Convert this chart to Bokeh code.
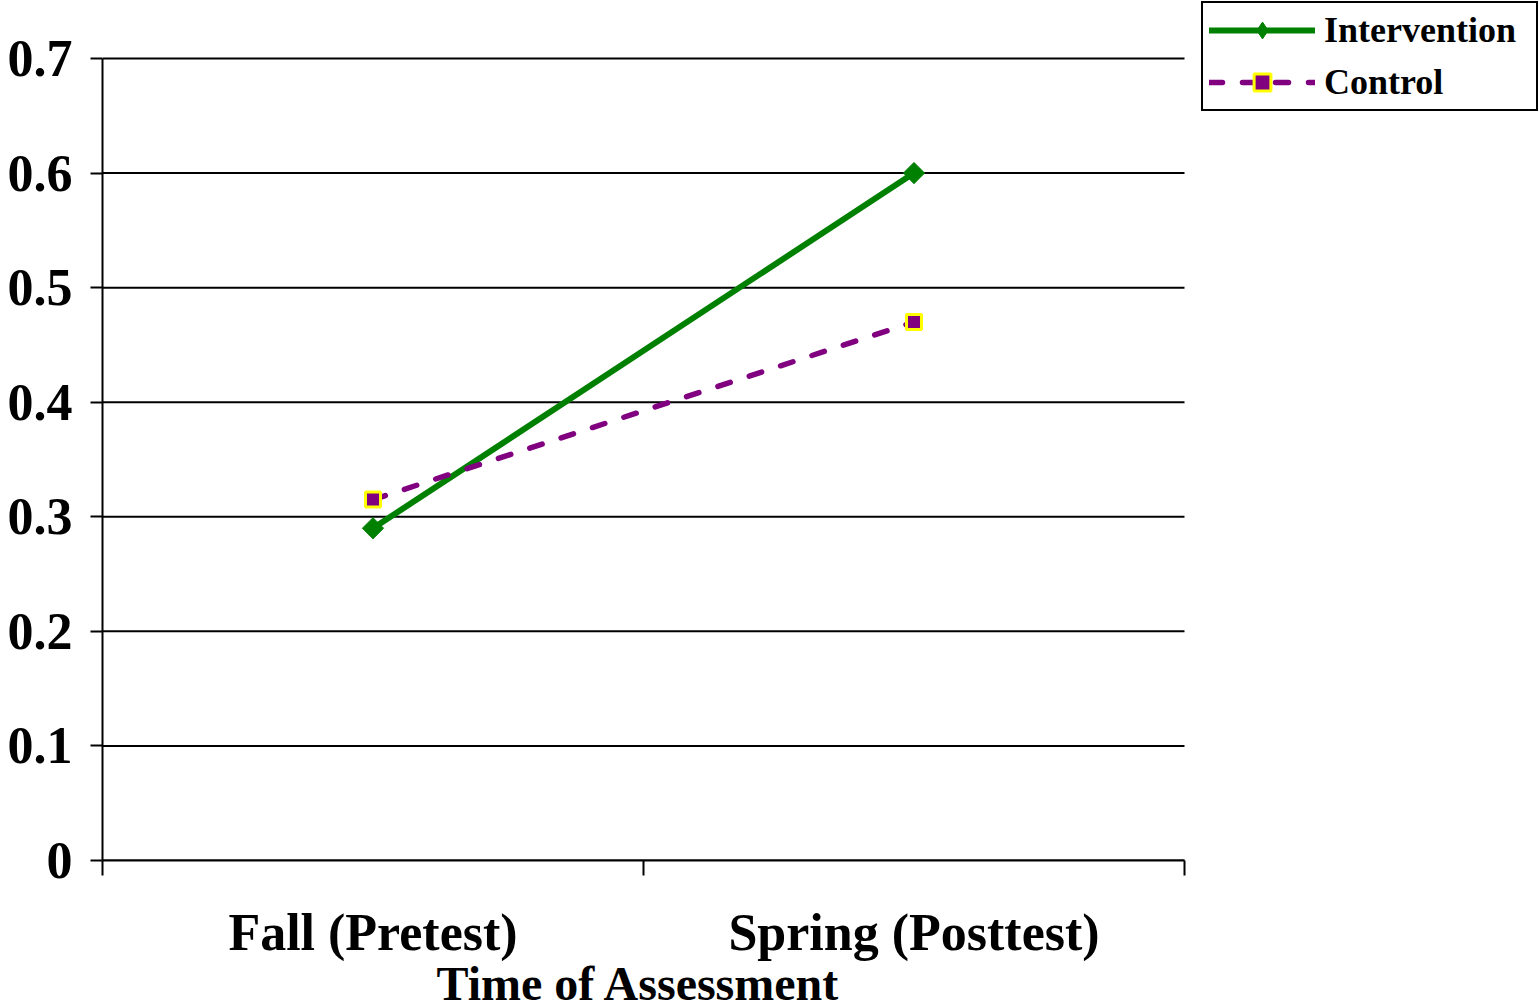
from bokeh.plotting import figure
from bokeh.models import Range1d, FixedTicker, Legend, LegendItem, Title
from bokeh.embed import file_html
from bokeh.resources import INLINE
import numpy as np

# Data
categories = ["Fall (Pretest)", "Spring (Posttest)"]
intervention = [0.29, 0.60]
control = [0.315, 0.47]
y_ticks = [0, 0.1, 0.2, 0.3, 0.4, 0.5, 0.6, 0.7]
y_tick_labels = ["0", "0.1", "0.2", "0.3", "0.4", "0.5", "0.6", "0.7"]
x_title = "Time of Assessment"

FONT = "Liberation Serif"

# categories sit in the middle of unit-wide bins
n_cat = len(categories)
x_pos = [i + 0.5 for i in range(n_cat)]
bin_edges = [float(i) for i in range(n_cat + 1)]
y_top = y_ticks[-1]

# The frame reaches the right and top edges of the canvas so the legend can
# sit in the upper-right corner; axes are bounded to the data area.
p = figure(width=1539, height=1004, output_backend="svg", toolbar_location=None,
           x_range=Range1d(0, n_cat * 1.3281), y_range=Range1d(0, y_top * 1.0723),
           min_border_left=102, min_border_right=0, min_border_top=0,
           min_border_bottom=144)
p.outline_line_color = None
p.background_fill_color = "white"
p.border_fill_color = "white"

# y axis
p.yaxis.bounds = (0, y_top)
p.yaxis.ticker = FixedTicker(ticks=y_ticks)
p.yaxis.major_label_overrides = {t: l for t, l in zip(y_ticks, y_tick_labels)}
p.yaxis.major_label_text_font = FONT
p.yaxis.major_label_text_font_style = "bold"
p.yaxis.major_label_text_font_size = "52px"
p.yaxis.major_label_text_color = "black"
p.yaxis.major_label_standoff = 18
p.yaxis.axis_line_width = 2
p.yaxis.axis_line_color = "black"
p.yaxis.major_tick_line_width = 2
p.yaxis.major_tick_line_color = "black"
p.yaxis.major_tick_out = 12
p.yaxis.major_tick_in = 0
p.yaxis.minor_tick_line_color = None

# x axis: labels at bin centres, tick marks at bin edges
p.xaxis.bounds = (0, n_cat)
p.xaxis.ticker = FixedTicker(ticks=x_pos, minor_ticks=bin_edges)
p.xaxis.major_label_overrides = {x: c for x, c in zip(x_pos, categories)}
p.xaxis.major_label_text_font = FONT
p.xaxis.major_label_text_font_style = "bold"
p.xaxis.major_label_text_font_size = "52px"
p.xaxis.major_label_text_color = "black"
p.xaxis.major_label_standoff = 28
p.xaxis.major_tick_out = 0
p.xaxis.major_tick_in = 0
p.xaxis.minor_tick_out = 15
p.xaxis.minor_tick_in = 0
p.xaxis.minor_tick_line_width = 2
p.xaxis.minor_tick_line_color = "black"
p.xaxis.axis_line_width = 2
p.xaxis.axis_line_color = "black"

# axis title, centred under the category area
p.add_layout(Title(text=x_title, align="left", offset=334, standoff=-18,
                   text_font=FONT, text_font_style="bold",
                   text_font_size="48px", text_color="black"), "below")

# horizontal grid lines, limited to the category area
p.xgrid.grid_line_color = None
p.ygrid.grid_line_color = None
p.segment(x0=[bin_edges[0]] * len(y_ticks), x1=[bin_edges[-1]] * len(y_ticks),
          y0=y_ticks, y1=y_ticks, line_color="black", line_width=2)

# series
l1 = p.line(x_pos, intervention, line_color="#008000", line_width=6,
            line_cap="round")
# rotated square marker, with a plain diamond inside it for the legend key
m1 = p.scatter(x_pos, intervention, marker="square", angle=np.pi / 4, size=15,
               fill_color="#008000", line_color="#008000", line_width=1)
m1_key = p.scatter(x_pos, intervention, marker="diamond", size=20,
                   fill_color="#008000", line_color="#008000", line_width=1)
l2 = p.line(x_pos, control, line_color="#800080", line_width=5.5,
            line_dash="13 20", line_cap="round")
m2 = p.scatter(x_pos, control, marker="square", size=15,
               fill_color="#800080", line_color="#FFFF00", line_width=3)

legend = Legend(items=[LegendItem(label="Intervention", renderers=[l1, m1_key]),
                       LegendItem(label="Control", renderers=[l2, m2])],
                location="top_right")
legend.label_text_font = FONT
legend.label_text_font_style = "bold"
legend.label_text_font_size = "36px"
legend.label_text_color = "black"
legend.label_width = 206
legend.glyph_width = 106
legend.glyph_height = 42
legend.label_height = 42
legend.label_standoff = 9
legend.spacing = 10
legend.padding = 6
legend.margin = 1
legend.border_line_color = "black"
legend.border_line_width = 2
legend.border_line_alpha = 1
legend.background_fill_color = "white"
legend.background_fill_alpha = 1
p.add_layout(legend, "center")

open("out.html", "w").write(file_html(p, INLINE))
